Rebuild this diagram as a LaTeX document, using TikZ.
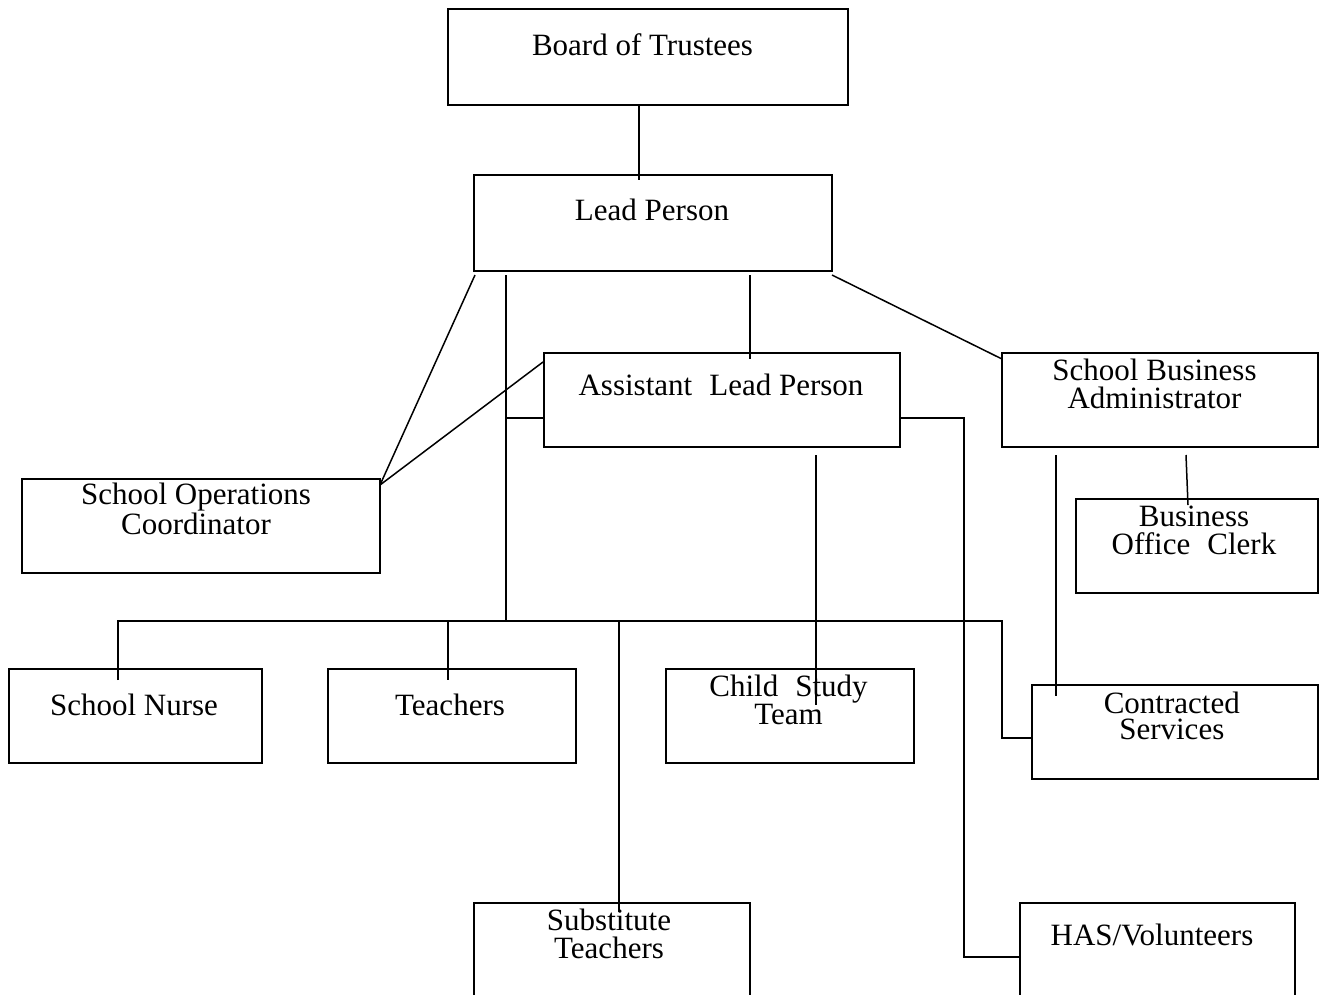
\documentclass[tikz,border=0pt]{standalone}
\usepackage{fontspec}
\setmainfont{Liberation Serif}
\begin{document}
\begin{tikzpicture}[x=1pt,y=-1pt,
  box/.style={draw=black, line width=1.8pt, rectangle, inner sep=0pt},
  conn/.style={draw=black, line width=1.5pt},
  lbl/.style={anchor=base, inner sep=0pt, align=center, font=\fontsize{31}{27.5}\selectfont},
  tight/.style={font=\fontsize{31}{25.5}\selectfont}]
\useasboundingbox (0,0) rectangle (1320,994);
\clip (0,0) rectangle (1320,994);
% boxes
\node[box, minimum width=400, minimum height=96] (board) at (648,57) {};
\node[box, minimum width=358, minimum height=96] (lead) at (653,223) {};
\node[box, minimum width=356, minimum height=94] (asst) at (722,400) {};
\node[box, minimum width=316, minimum height=94] (sba) at (1160,400) {};
\node[box, minimum width=358, minimum height=94] (soc) at (201,526) {};
\node[box, minimum width=242, minimum height=94] (boc) at (1197,546) {};
\node[box, minimum width=253, minimum height=94] (nurse) at (135.5,716) {};
\node[box, minimum width=248, minimum height=94] (teach) at (452,716) {};
\node[box, minimum width=248, minimum height=94] (cst) at (790,716) {};
\node[box, minimum width=286, minimum height=94] (contr) at (1175,732) {};
\node[box, minimum width=276, minimum height=97] (subst) at (612,951.5) {};
\node[box, minimum width=275, minimum height=97] (has) at (1157.5,951.5) {};
% labels (base = baseline of the last line)
\node[lbl] (tboard) at (642.5,55) {Board of Trustees};
\node[lbl] (tlead) at (652,220.7) {Lead Person};
\node[lbl] (tasst) at (721,395) {Assistant\hspace{0.55em}Lead Person};
\node[lbl] (tsba) at (1154.5,408.3) {School Business\\Administrator};
\node[lbl] (tsoc) at (196,534) {School Operations\\Coordinator};
\node[lbl] (tboc) at (1194,554.3) {Business\\Office\hspace{0.55em}Clerk};
\node[lbl] (tnurse) at (134,715) {School Nurse};
\node[lbl] (tteach) at (450,715) {Teachers};
\node[lbl, tight] (tcst) at (788.5,724.3) {Child\hspace{0.55em}Study\\Team};
\node[lbl, tight] (tcontr) at (1171.8,739.3) {Contracted\\Services};
\node[lbl] (tsub) at (609,958.3) {Substitute\\Teachers};
\node[lbl] (thas) at (1152,945) {HAS/Volunteers};
% free ends
\coordinate (c1) at (639,180);
\coordinate (c2) at (475,275);
\coordinate (c3) at (380,485);
\coordinate (c4) at (506,275);
\coordinate (c5) at (506,621);
\coordinate (c6) at (750,275);
\coordinate (c7) at (750,359);
\coordinate (c8) at (832,275);
\coordinate (c9) at (1002,359);
\coordinate (c10) at (964,418);
\coordinate (c11) at (964,957);
\coordinate (c12) at (816,455);
\coordinate (c13) at (816,705);
\coordinate (c14) at (1056,455);
\coordinate (c15) at (1056,696);
\coordinate (c16) at (1186,455);
\coordinate (c17) at (1188,505);
\coordinate (c18) at (118,680);
\coordinate (c19) at (118,621);
\coordinate (c20) at (1002,621);
\coordinate (c21) at (1002,738);
\coordinate (c22) at (448,621);
\coordinate (c23) at (448,680);
\coordinate (c24) at (619,621);
\coordinate (c25) at (619,912);
\coordinate (c26) at (543,362);
\coordinate (c27) at (506,418);
% connectors
\draw[conn] (board.south -| c1) -- (c1);
\draw[conn] (c2) -- (c3);
\draw[conn] (c26) -- (c3);
\draw[conn] (c4) -- (c5);
\draw[conn] (c27) -- (asst.west |- c27);
\draw[conn] (c6) -- (c7);
\draw[conn] (c8) -- (c9);
\draw[conn] (asst.east |- c10) -- (c10) -- (c11) -- (has.west |- c11);
\draw[conn] (c12) -- (c13);
\draw[conn] (c14) -- (c15);
\draw[conn] (c16) -- (c17);
\draw[conn] (c18) -- (c19) -- (c20) -- (c21) -- (contr.west |- c21);
\draw[conn] (c22) -- (c23);
\draw[conn] (c24) -- (c25);
\end{tikzpicture}
\end{document}
